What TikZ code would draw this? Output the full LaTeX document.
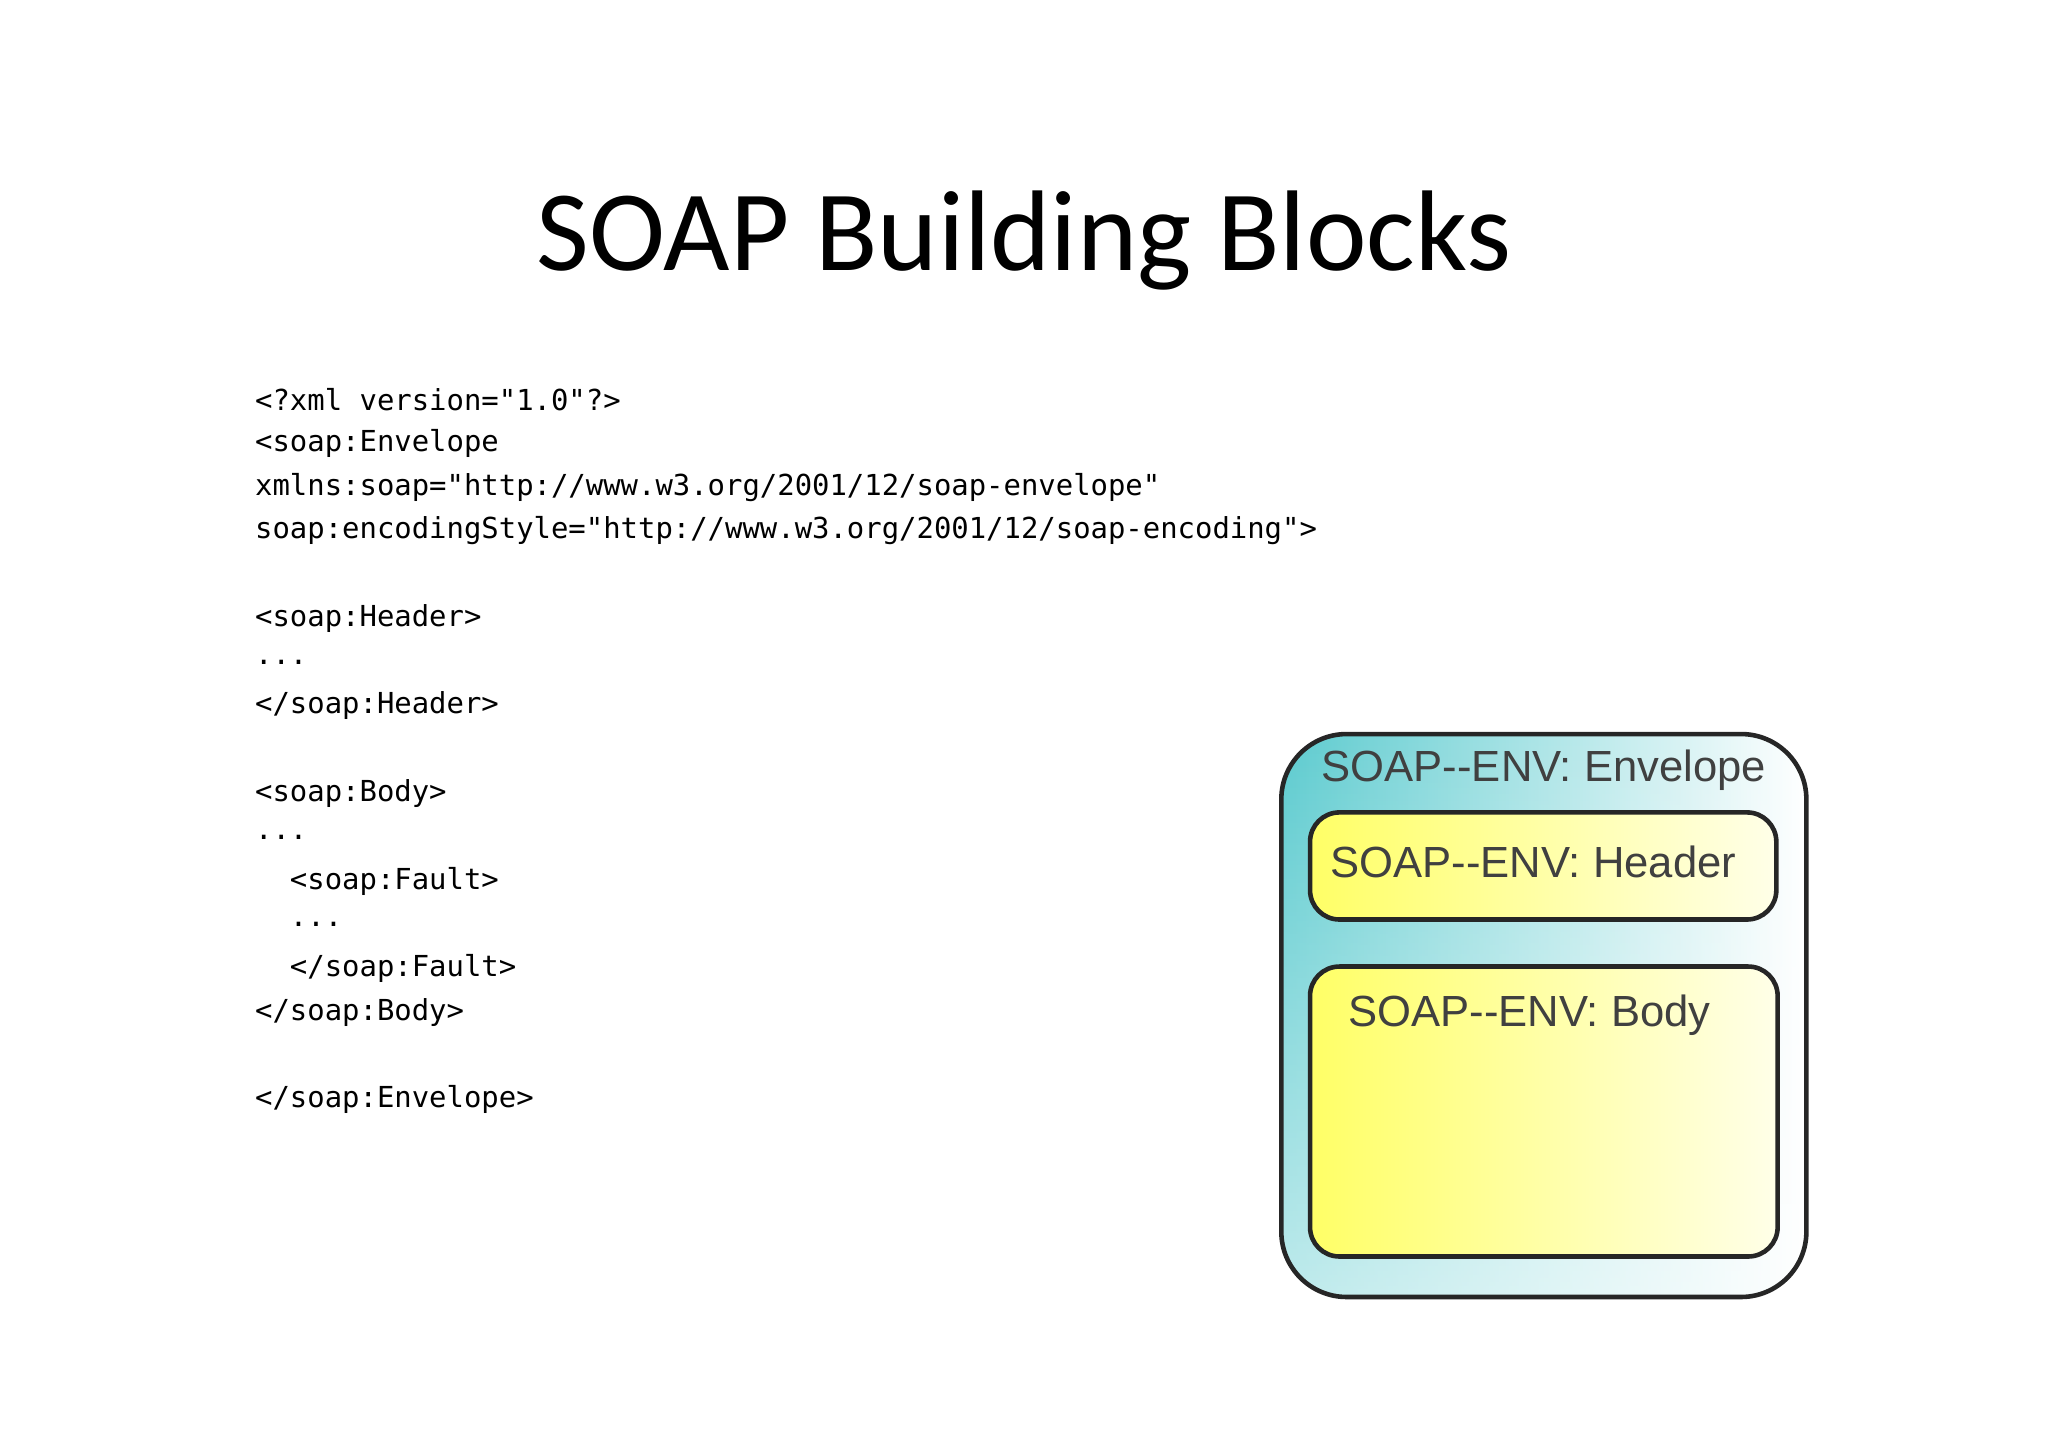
\documentclass[tikz,border=0pt]{standalone}
\usepackage{fontspec}
\setmainfont{Carlito}
\newfontfamily\codefont{DejaVu Sans Mono}
\newfontfamily\boxfont{Liberation Sans}
\usetikzlibrary{fadings}
\definecolor{teal1}{HTML}{5CCBCF}
\definecolor{yel1}{HTML}{FFFF66}
\tikzset{
  code/.style={anchor=west,font=\codefont\fontsize{12.6pt}{15pt}\selectfont,inner sep=0pt},
  lbl/.style={font=\boxfont\fontsize{19pt}{22pt}\selectfont,text=black!75,inner sep=0pt},
  ybox/.style={draw=black!85,line width=2pt,rounded corners=0.45cm,left color=yel1,right color=yel1!15}
}
\begin{document}
\begin{tikzpicture}[x=0.02cm,y=-0.02cm]
\useasboundingbox (0,0) rectangle (1568,1108);
\node[font=\fontsize{50pt}{60pt}\selectfont,inner sep=0pt] (title) at (784,184) {SOAP Building Blocks};
\node[code] (c1) at (195,306) {<?xml version="1.0"?>};
\node[code] (c2) at (195,339.5) {<soap:Envelope};
\node[code] (c3) at (195,373) {xmlns:soap="http://www.w3.org/2001/12/soap-envelope"};
\node[code] (c4) at (195,406.5) {soap:encodingStyle="http://www.w3.org/2001/12/soap-encoding">};
\node[code] (c6) at (195,473.5) {<soap:Header>};
\node[code] (c7) at (195,507) {...};
\node[code] (c8) at (195,540.5) {</soap:Header>};
\node[code] (c10) at (195,607.5) {<soap:Body>};
\node[code] (c11) at (195,641) {...};
\node[code] (c12) at (195,674.5) {\ \ <soap:Fault>};
\node[code] (c13) at (195,708) {\ \ ...};
\node[code] (c14) at (195,741.5) {\ \ </soap:Fault>};
\node[code] (c15) at (195,775) {</soap:Body>};
\node[code] (c17) at (195,842) {</soap:Envelope>};
\shade[left color=teal1,right color=white,rounded corners=1cm] (981,562) rectangle (1383,993);
\fill[white,rounded corners=1cm,path fading=north,opacity=0.6] (981,562) rectangle (1383,993);
\draw[black!85,line width=2pt,rounded corners=1cm] (981,562) rectangle (1383,993);
\draw[ybox] (1003,622) rectangle (1360,704);
\draw[ybox] (1003,740) rectangle (1361,962);
\node[lbl] (le) at (1182,590) {SOAP--ENV: Envelope};
\node[lbl] (lh) at (1174,660) {SOAP--ENV: Header};
\node[lbl] (lb) at (1171,777) {SOAP--ENV: Body};
\end{tikzpicture}
\end{document}
